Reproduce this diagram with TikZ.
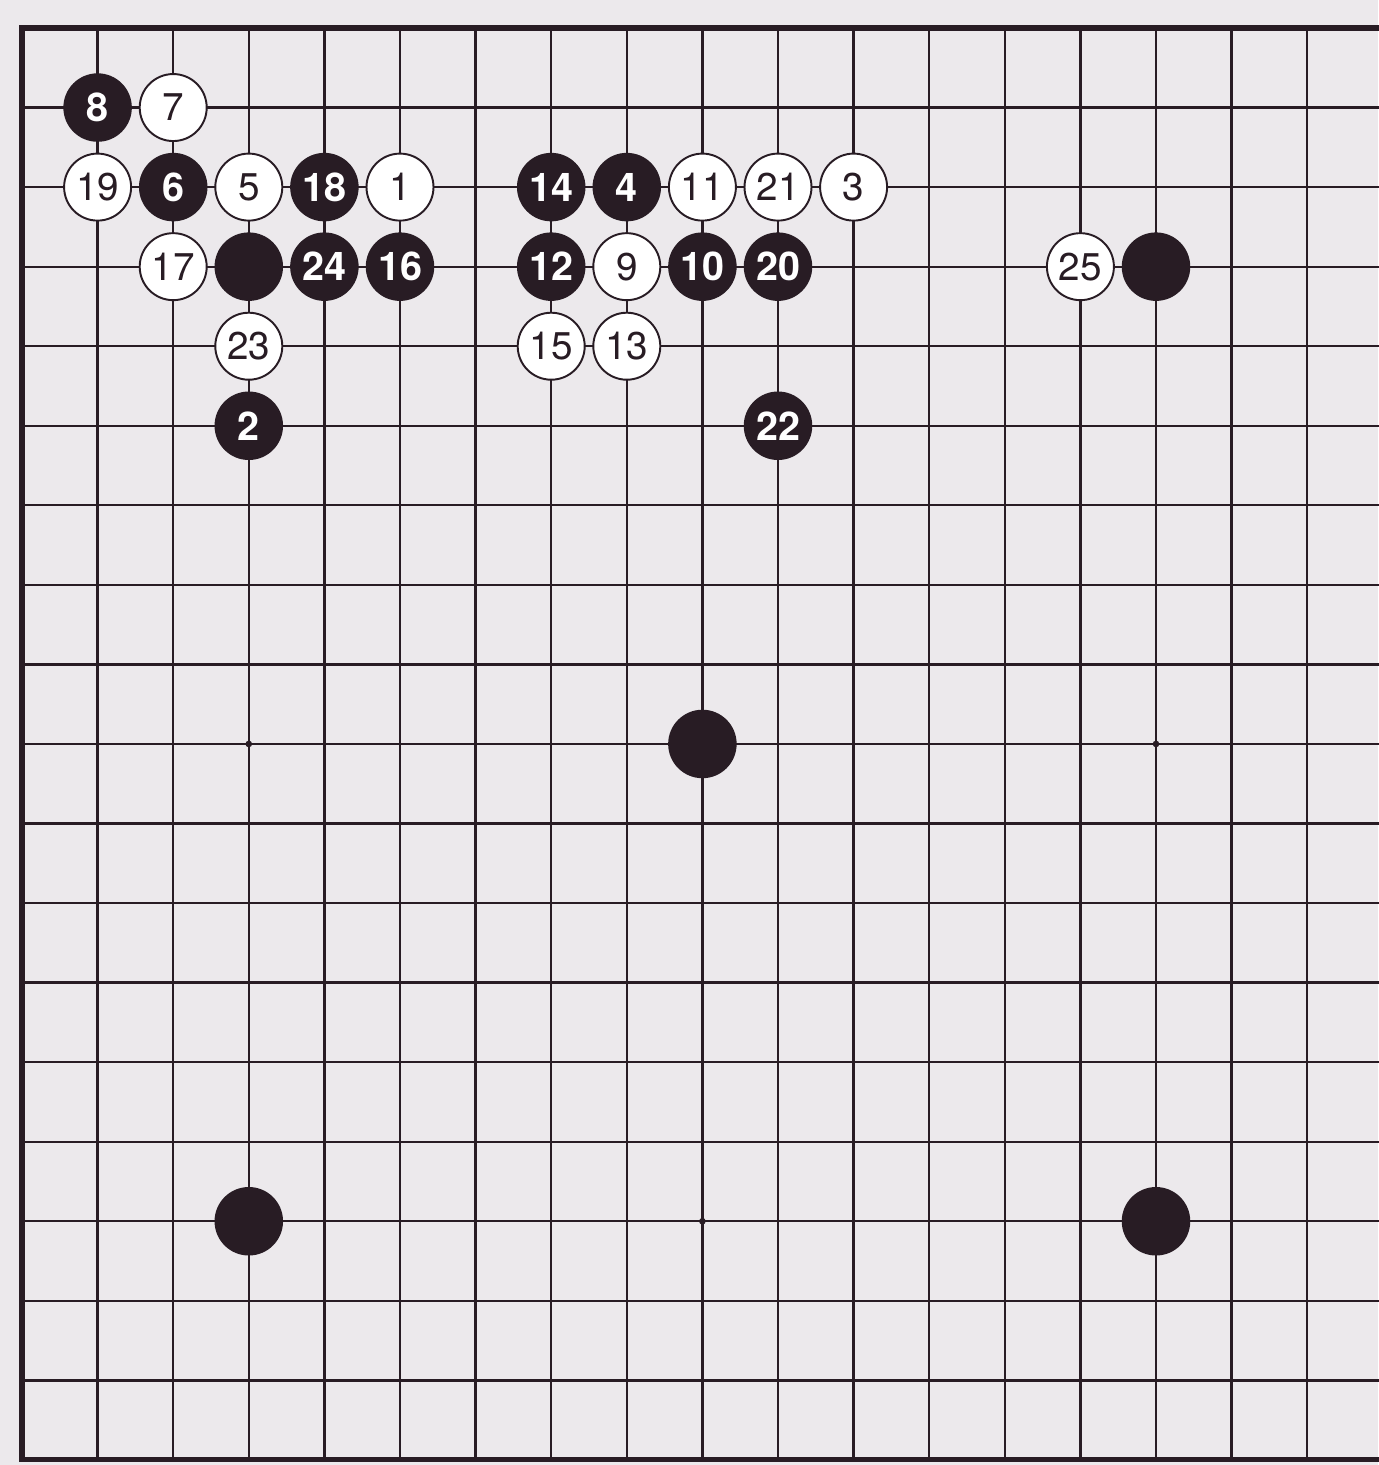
\documentclass[tikz,border=0pt]{standalone}
\usepackage{fontspec}
\setmainfont{TeX Gyre Heros}
\usepackage{xcolor}
\usepackage{tikz}
\definecolor{paper}{RGB}{236,233,236}
\definecolor{ink}{RGB}{40,28,36}

\begin{document}
\begin{tikzpicture}[x=1.512cm,y=-1.591cm,
  bstone/.style={circle,fill=ink,minimum size=1.37cm,inner sep=0pt,
    text=white,font=\fontsize{22.5}{24}\selectfont\bfseries},
  wstone/.style={circle,draw=ink,fill=white,line width=1.1pt,minimum size=1.34cm,
    inner sep=0pt,text=ink,font=\fontsize{22}{24}\selectfont},
  gridline/.style={ink,line width=1.3pt},
  edgeline/.style={ink,line width=2.9pt}]
\useasboundingbox[fill=paper] (-0.291,-0.352) rectangle (17.937,18.064);
% grid
\foreach \i in {1,...,17}{
  \draw[gridline] (\i,0) -- (\i,18);
  \draw[gridline] (0,\i) -- (18,\i);
}
% board edge
\draw[edgeline] (0,0) rectangle (18,18);
% star points
\foreach \c/\r in {3/9,15/9,9/15}{
  \fill[ink] (\c,\r) circle (1.9pt);
}
% handicap stones
\foreach \c/\r [count=\k] in {3/3,15/3,9/9,3/15,15/15}{
  \node[bstone] (h\k) at (\c,\r) {};
}
% black moves
\foreach \c/\r/\n in {3/5/2,8/2/4,2/2/6,1/1/8,9/3/10,7/3/12,7/2/14,
                      5/3/16,4/2/18,10/3/20,10/5/22,4/3/24}{
  \node[bstone] (m\n) at (\c,\r) {\n};
}
% white moves
\foreach \c/\r/\n in {5/2/1,11/2/3,3/2/5,2/1/7,8/3/9,9/2/11,8/4/13,
                      7/4/15,2/3/17,1/2/19,10/2/21,3/4/23,14/3/25}{
  \node[wstone] (m\n) at (\c,\r) {\n};
}
\end{tikzpicture}
\end{document}
